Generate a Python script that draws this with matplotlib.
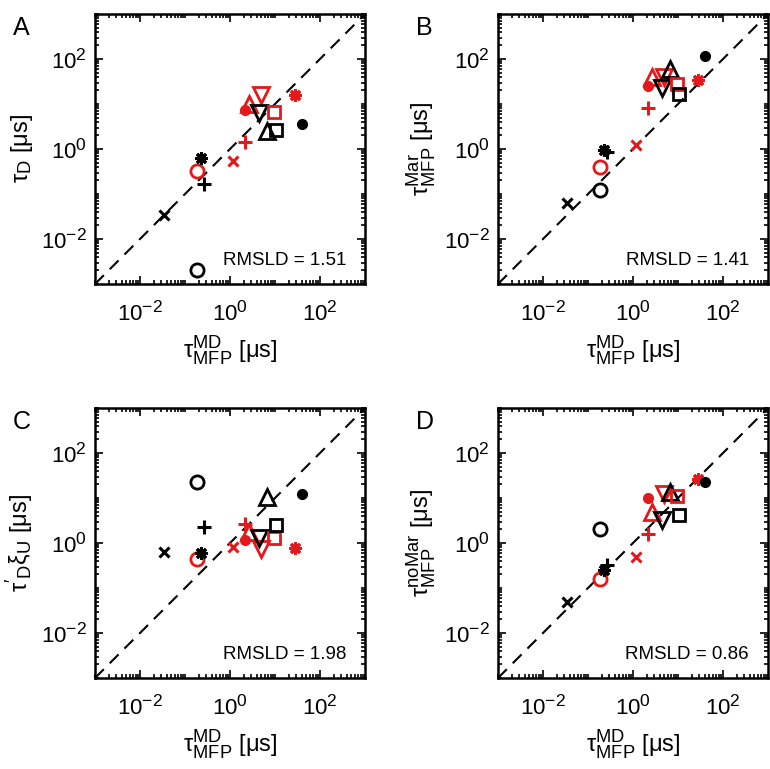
import numpy as np
import matplotlib
matplotlib.use("Agg")
import matplotlib.pyplot as plt
import matplotlib._mathtext as mtext
from matplotlib.ticker import FixedLocator, NullFormatter

plt.rcParams["font.family"] = ["Liberation Sans", "DejaVu Sans"]
plt.rcParams["mathtext.fontset"] = "custom"
plt.rcParams["mathtext.rm"] = "Liberation Sans"
plt.rcParams["mathtext.it"] = "Liberation Sans:italic"
# bigger super/subscripts, closer to the original look
mtext.SHRINK_FACTOR = 0.78

RED = "#e3191c"

# systems: marker kind and colour
kinds = ["x", "o", "o", "ast", "+", "x", "+", "dot", "^", "v", "v", "^", "s", "s", "ast", "dot"]
colors = ["k", "k", "r", "k", "k", "r", "r", "r", "r", "r", "k", "k", "r", "k", "r", "k"]

# tau_MFP^MD [us] (shared x values)
tau_md = [0.035, 0.186, 0.186, 0.229, 0.263, 1.17, 2.14, 2.14, 2.63, 5.0, 4.37, 6.6, 9.55, 10.7, 27.5, 38.9]

# panel y values [us]
tau_d = [0.034, 0.002, 0.33, 0.62, 0.166, 0.54, 1.41, 7.4, 10.0, 15.5, 6.3, 2.5, 6.8, 2.7, 16.2, 3.6]
tau_mar = [0.063, 0.123, 0.39, 0.95, 0.87, 1.23, 8.3, 25.7, 39.8, 40.7, 22.9, 60.3, 28.2, 17.0, 34.7, 117]
tau_xi = [0.62, 22.4, 0.43, 0.60, 2.24, 0.81, 2.7, 1.17, 1.78, 0.74, 1.26, 10.5, 1.26, 2.45, 0.78, 12.3]
tau_nomar = [0.049, 2.0, 0.158, 0.257, 0.33, 0.49, 1.58, 10.0, 5.0, 12.0, 3.3, 13.5, 11.0, 4.1, 26.3, 22.9]

rmsld = ["1.51", "1.41", "1.98", "0.86"]
letters = ["A", "B", "C", "D"]
ylabels = [
    r"$\mathrm{τ}_{\mathrm{D}}$ [μs]",
    r"$\mathrm{τ}^{\mathrm{Mar}}_{\mathrm{MFP}}$ [μs]",
    r"$\mathrm{τ'}_{\mathrm{D}}\mathrm{ξ}_{\mathrm{U}}$ [μs]",
    r"$\mathrm{τ}^{\mathrm{noMar}}_{\mathrm{MFP}}$ [μs]",
]
xlabel = r"$\mathrm{τ}^{\mathrm{MD}}_{\mathrm{MFP}}$ [μs]"

marker_style = {
    "x": dict(marker="x", ms=7, mew=2.2, fill=False),
    "o": dict(marker="o", ms=9.5, mew=2.0, fill=False),
    "ast": dict(marker=(8, 2, 0), ms=9, mew=2.2, fill=False),
    "+": dict(marker="+", ms=10, mew=2.2, fill=False),
    "dot": dict(marker="o", ms=7, mew=1, fill=True),
    "^": dict(marker="^", ms=11, mew=2.0, fill=False),
    "v": dict(marker="v", ms=11, mew=2.0, fill=False),
    "s": dict(marker="s", ms=8.5, mew=2.0, fill=False),
}

fig = plt.figure(figsize=(7.7, 7.69), dpi=100)
W, H = 770, 769
boxes = [(95, 14), (498, 14), (95, 408), (498, 408)]
size = 270

panels = [tau_d, tau_mar, tau_xi, tau_nomar]

major = [1e-2, 1e0, 1e2]
minor = [k * 10.0 ** d for d in range(-3, 3) for k in range(1, 10) if k * 10.0 ** d not in major]
minor.append(1e3)

for i, ys in enumerate(panels):
    x0, y0 = boxes[i]
    ax = fig.add_axes([x0 / W, 1 - (y0 + size) / H, size / W, size / H])
    ax.set_xscale("log")
    ax.set_yscale("log")
    ax.set_xlim(1e-3, 1e3)
    ax.set_ylim(1e-3, 1e3)
    ax.plot([1e-3, 1e3], [1e-3, 1e3], "k--", lw=1.5, dashes=(6, 4), zorder=1)

    for xv, yv, k, c in zip(tau_md, ys, kinds, colors):
        col = RED if c == "r" else "black"
        st = dict(marker_style[k])
        fill = st.pop("fill")
        ax.plot([xv], [yv], linestyle="none", color=col,
                mfc=col if fill else "none", mec=col, zorder=3, **st)

    ax.xaxis.set_major_locator(FixedLocator(major))
    ax.yaxis.set_major_locator(FixedLocator(major))
    ax.xaxis.set_minor_locator(FixedLocator(minor))
    ax.yaxis.set_minor_locator(FixedLocator(minor))
    ax.xaxis.set_minor_formatter(NullFormatter())
    ax.yaxis.set_minor_formatter(NullFormatter())
    ax.set_xticklabels([r"$10^{-2}$", r"$10^{0}$", r"$10^{2}$"])
    ax.set_yticklabels([r"$10^{-2}$", r"$10^{0}$", r"$10^{2}$"])
    ax.tick_params(which="both", direction="in", top=True, right=True,
                   labelsize=16, width=1.2)
    ax.tick_params(axis="x", which="major", pad=12)
    ax.tick_params(axis="y", which="major", pad=6)
    ax.tick_params(which="major", length=6)
    ax.tick_params(which="minor", length=3)
    for sp in ax.spines.values():
        sp.set_linewidth(1.8)

    ax.set_xlabel(xlabel, fontsize=17, labelpad=6)
    ax.set_ylabel(ylabels[i], fontsize=17, labelpad=4)
    ax.text(0.93, 0.07, "RMSLD = " + rmsld[i], transform=ax.transAxes,
            ha="right", va="baseline", fontsize=13.5)
    fig.text((x0 - 82) / W, 1 - (y0 + 2) / H, letters[i], fontsize=18,
             ha="left", va="top")

fig.savefig("out.png", dpi=100)
